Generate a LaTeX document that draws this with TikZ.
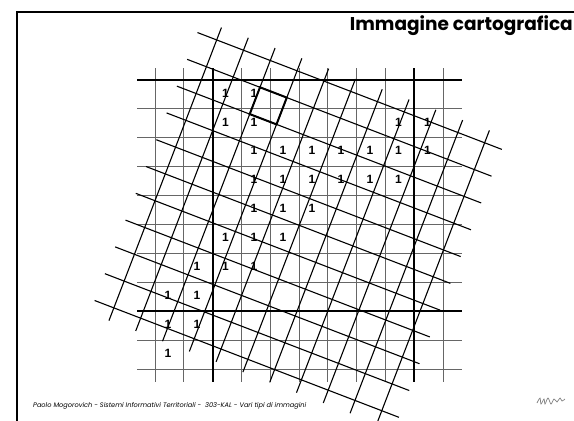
\documentclass[tikz,border=0pt]{standalone}
\usepackage{fontspec}
\setsansfont{Liberation Sans}
\newfontfamily\comicfont{Poppins}
\begin{document}
\begin{tikzpicture}[
    x=1pt, y=-1pt,
    gridline/.style={draw=gray!80!black, line width=0.9pt},
    boldline/.style={draw=black, line width=2.2pt},
    tiltline/.style={draw=black, line width=1.1pt},
    pixel/.style={font=\sffamily\bfseries\fontsize{12}{12}\selectfont, inner sep=0pt},
    title/.style={font=\comicfont\bfseries\fontsize{18.5}{18.5}\selectfont, anchor=north east, inner sep=0pt},
    footer/.style={font=\comicfont\itshape\fontsize{6.6}{6.6}\selectfont, anchor=west, inner sep=0pt}
]
\useasboundingbox (0,0) rectangle (574,421);

% Frame
\draw[line width=2pt] (17,421) -- (17,11.5) -- (574,11.5);

% Square grid
\foreach \i in {0,...,10} {
  \draw[gridline] ({155+28.8*\i},68) -- ({155+28.8*\i},382);
  \draw[gridline] (137,{80+28.9*\i}) -- (462,{80+28.9*\i});
}
\foreach \i in {2,9} \draw[boldline] ({155+28.8*\i},68) -- ({155+28.8*\i},382);
\foreach \i in {0,8} \draw[boldline] (137,{80+28.9*\i}) -- (462,{80+28.9*\i});

% Rotated grid
\begin{scope}[shift={(260,87.3)}, rotate=-21]
  \foreach \j in {-1,...,9} \draw[tiltline] (-78,{28.7*\j}) -- (248,{28.7*\j});
  \foreach \i in {-2,...,8} \draw[tiltline] ({28.7*\i},-42) -- ({28.7*\i},272);
  \draw[line width=2pt] (0,0) rectangle (28.7,28.7);
\end{scope}

% Row 1
\node[pixel] (r1c3) at (225.5,93) {1};
\node[pixel] (r1c4) at (254,93) {1};

% Row 2
\node[pixel] (r2c3) at (225.5,122) {1};
\node[pixel] (r2c4) at (254,122) {1};
\node[pixel] (r2c9) at (398.5,122) {1};
\node[pixel] (r2c10) at (427.5,122) {1};

% Row 3
\node[pixel] (r3c4) at (254,150.5) {1};
\node[pixel] (r3c5) at (283,150.5) {1};
\node[pixel] (r3c6) at (312,150.5) {1};
\node[pixel] (r3c7) at (341,150.5) {1};
\node[pixel] (r3c8) at (370,150.5) {1};
\node[pixel] (r3c9) at (398.5,150.5) {1};
\node[pixel] (r3c10) at (427.5,150.5) {1};

% Row 4
\node[pixel] (r4c4) at (254,179.5) {1};
\node[pixel] (r4c5) at (283,179.5) {1};
\node[pixel] (r4c6) at (312,179.5) {1};
\node[pixel] (r4c7) at (341,179.5) {1};
\node[pixel] (r4c8) at (370,179.5) {1};
\node[pixel] (r4c9) at (398.5,179.5) {1};

% Row 5
\node[pixel] (r5c4) at (254,208.5) {1};
\node[pixel] (r5c5) at (283,208.5) {1};
\node[pixel] (r5c6) at (312,208.5) {1};

% Row 6
\node[pixel] (r6c3) at (225.5,237.5) {1};
\node[pixel] (r6c4) at (254,237.5) {1};
\node[pixel] (r6c5) at (283,237.5) {1};

% Row 7
\node[pixel] (r7c2) at (197,266.5) {1};
\node[pixel] (r7c3) at (225.5,266.5) {1};
\node[pixel] (r7c4) at (254,266.5) {1};

% Row 8
\node[pixel] (r8c1) at (168,295.5) {1};
\node[pixel] (r8c2) at (197,295.5) {1};

% Row 9
\node[pixel] (r9c1) at (168,324) {1};
\node[pixel] (r9c2) at (197,324) {1};

% Row 10
\node[pixel] (r10c1) at (168,353) {1};

% Title, footer and signature
\node[title] (title) at (573,15) {Immagine cartografica};
\node[footer] (footer) at (33,406) {Paolo Mogorovich - Sistemi Informativi Territoriali -\ \ 303-KAL - Vari tipi di immagini};
\draw[gray, line width=0.7pt] plot[smooth] coordinates {(537,403) (540,398) (541,404) (544,399) (545,404) (548,398) (551,404) (554,399) (557,402) (560,398) (562,401) (565,399)};

\end{tikzpicture}
\end{document}
